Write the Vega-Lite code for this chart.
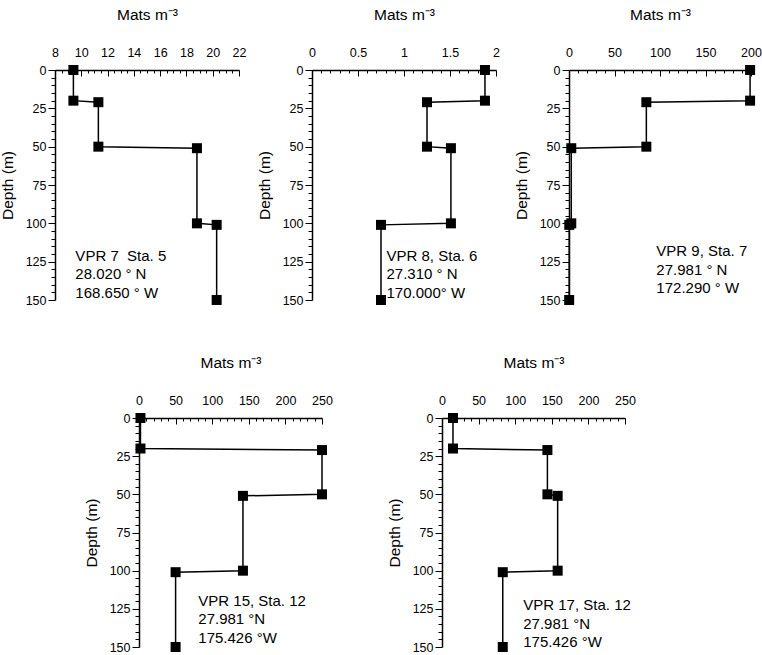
{
  "$schema": "https://vega.github.io/schema/vega-lite/v6.json",
  "padding": {"left": 0, "top": 7, "right": 0, "bottom": 0},
  "background": "white",
  "datasets": {
    "vpr7": [
      {"depth": 0, "mats": 9.4}, {"depth": 20, "mats": 9.4}, {"depth": 21, "mats": 11.3}, {"depth": 50, "mats": 11.3},
      {"depth": 51, "mats": 18.8}, {"depth": 100, "mats": 18.8}, {"depth": 101, "mats": 20.3}, {"depth": 150, "mats": 20.3}
    ],
    "vpr8": [
      {"depth": 0, "mats": 1.88}, {"depth": 20, "mats": 1.88}, {"depth": 21, "mats": 1.25}, {"depth": 50, "mats": 1.25},
      {"depth": 51, "mats": 1.51}, {"depth": 100, "mats": 1.51}, {"depth": 101, "mats": 0.75}, {"depth": 150, "mats": 0.75}
    ],
    "vpr9": [
      {"depth": 0, "mats": 199}, {"depth": 20, "mats": 199}, {"depth": 21, "mats": 85}, {"depth": 50, "mats": 85},
      {"depth": 51, "mats": 2.5}, {"depth": 100, "mats": 2.5}, {"depth": 101, "mats": 0.3}, {"depth": 150, "mats": 0.2}
    ],
    "vpr15": [
      {"depth": 0, "mats": 2}, {"depth": 20, "mats": 2}, {"depth": 21, "mats": 250}, {"depth": 50, "mats": 250},
      {"depth": 51, "mats": 142}, {"depth": 100, "mats": 142}, {"depth": 101, "mats": 50}, {"depth": 150, "mats": 50}
    ],
    "vpr17": [
      {"depth": 0, "mats": 15}, {"depth": 20, "mats": 15}, {"depth": 21, "mats": 144}, {"depth": 50, "mats": 144},
      {"depth": 51, "mats": 158}, {"depth": 100, "mats": 158}, {"depth": 101, "mats": 83}, {"depth": 150, "mats": 83}
    ],
    "note7": [{"mats": 9.55, "depth": 116.7, "label": "VPR 7\u00a0 Sta. 5\n28.020 ° N\n168.650 ° W"}],
    "note8": [{"mats": 0.81, "depth": 116.5, "label": "VPR 8, Sta. 6\n27.310 ° N\n170.000° W"}],
    "note9": [{"mats": 96, "depth": 113.5, "label": "VPR 9, Sta. 7\n27.981 ° N\n172.290 ° W"}],
    "note15": [{"mats": 81, "depth": 115, "label": "VPR 15, Sta. 12\n27.981 °N\n175.426 °W"}],
    "note17": [{"mats": 111, "depth": 118, "label": "VPR 17, Sta. 12\n27.981 °N\n175.426 °W"}]
  },
  "vconcat": [
    {
      "bounds": "flush",
      "spacing": 73,
      "hconcat": [
        {
          "width": 184, "height": 230,
          "data": {"name": "vpr7"},
          "resolve": {"axis": {"x": "independent", "y": "independent"}},
          "layer": [
            {"mark": {"type": "line", "color": "black", "strokeWidth": 1.5},
             "encoding": {
              "x": {"field": "mats", "type": "quantitative", "scale": {"domain": [8, 22], "nice": false, "zero": false},
                "axis": {"orient": "top", "title": "Mats m⁻³", "values": [8,10,12,14,16,18,20,22], "labelExpr": "format(datum.value, '~g')",
                  "domain": true, "domainColor": "black", "domainWidth": 1.5, "ticks": false, "grid": false,
                  "labelFont": "Liberation Sans", "labelFontSize": 12.5, "labelColor": "black", "labelFlush": false, "labelOverlap": false, "labelPadding": 10.5,
                  "titleFont": "Liberation Sans", "titleFontSize": 15.5, "titleFontWeight": "normal", "titleColor": "black", "titlePadding": 24}},
              "y": {"field": "depth", "type": "quantitative", "scale": {"domain": [0, 150], "reverse": true, "nice": false},
                "axis": {"orient": "left", "title": "Depth (m)", "values": [0,25,50,75,100,125,150],
                  "domain": true, "domainColor": "black", "domainWidth": 1.5, "ticks": true, "tickColor": "black", "tickWidth": 1, "tickSize": 7, "grid": false,
                  "labelFont": "Liberation Sans", "labelFontSize": 12.5, "labelColor": "black", "labelFlush": false, "labelOverlap": false, "labelPadding": 2,
                  "titleFont": "Liberation Sans", "titleFontSize": 15.5, "titleFontWeight": "normal", "titleColor": "black", "titlePadding": 10}},
              "order": {"field": "depth", "type": "quantitative"}}},
            {"mark": {"type": "square", "color": "black", "size": 100, "opacity": 1},
             "encoding": {
              "x": {"field": "mats", "type": "quantitative", "scale": {"domain": [8, 22], "nice": false, "zero": false},
                "axis": {"orient": "top", "title": null, "values": [8,10,12,14,16,18,20,22], "labels": false, "domain": false, "grid": false, "ticks": true, "tickColor": "black", "tickWidth": 1, "tickSize": -6}},
              "y": {"field": "depth", "type": "quantitative", "scale": {"domain": [0, 150], "reverse": true, "nice": false},
                "axis": {"orient": "left", "title": null, "values": [5,10,15,20,30,35,40,45,55,60,65,70,80,85,90,95,105,110,115,120,130,135,140,145], "labels": false, "domain": false, "grid": false, "ticks": true, "tickColor": "black", "tickWidth": 1, "tickSize": 4}}}},
            {"data": {"name": "note7"}, "mark": {"type": "text", "align": "left", "baseline": "top", "font": "Liberation Sans", "fontSize": 15, "lineBreak": "\n", "lineHeight": 18.5, "color": "black"},
             "encoding": {
              "x": {"field": "mats", "type": "quantitative", "scale": {"domain": [8, 22], "nice": false, "zero": false},
                "axis": {"orient": "top", "title": null, "values": [8.5,9,9.5,10.5,11,11.5,12.5,13,13.5,14.5,15,15.5,16.5,17,17.5,18.5,19,19.5,20.5,21,21.5], "labels": false, "domain": false, "grid": false, "ticks": true, "tickColor": "black", "tickWidth": 1, "tickSize": -3}},
              "y": {"field": "depth", "type": "quantitative", "scale": {"domain": [0, 150], "reverse": true, "nice": false}, "axis": null},
              "text": {"field": "label"}}}
          ]
        },
        {
          "width": 184, "height": 230,
          "data": {"name": "vpr8"},
          "resolve": {"axis": {"x": "independent", "y": "independent"}},
          "layer": [
            {"mark": {"type": "line", "color": "black", "strokeWidth": 1.5},
             "encoding": {
              "x": {"field": "mats", "type": "quantitative", "scale": {"domain": [0, 2], "nice": false, "zero": false},
                "axis": {"orient": "top", "title": "Mats m⁻³", "values": [0,0.5,1,1.5,2], "labelExpr": "format(datum.value, '~g')",
                  "domain": true, "domainColor": "black", "domainWidth": 1.5, "ticks": false, "grid": false,
                  "labelFont": "Liberation Sans", "labelFontSize": 12.5, "labelColor": "black", "labelFlush": false, "labelOverlap": false, "labelPadding": 10.5,
                  "titleFont": "Liberation Sans", "titleFontSize": 15.5, "titleFontWeight": "normal", "titleColor": "black", "titlePadding": 24}},
              "y": {"field": "depth", "type": "quantitative", "scale": {"domain": [0, 150], "reverse": true, "nice": false},
                "axis": {"orient": "left", "title": "Depth (m)", "values": [0,25,50,75,100,125,150],
                  "domain": true, "domainColor": "black", "domainWidth": 1.5, "ticks": true, "tickColor": "black", "tickWidth": 1, "tickSize": 7, "grid": false,
                  "labelFont": "Liberation Sans", "labelFontSize": 12.5, "labelColor": "black", "labelFlush": false, "labelOverlap": false, "labelPadding": 2,
                  "titleFont": "Liberation Sans", "titleFontSize": 15.5, "titleFontWeight": "normal", "titleColor": "black", "titlePadding": 10}},
              "order": {"field": "depth", "type": "quantitative"}}},
            {"mark": {"type": "square", "color": "black", "size": 100, "opacity": 1},
             "encoding": {
              "x": {"field": "mats", "type": "quantitative", "scale": {"domain": [0, 2], "nice": false, "zero": false},
                "axis": {"orient": "top", "title": null, "values": [0,0.5,1,1.5,2], "labels": false, "domain": false, "grid": false, "ticks": true, "tickColor": "black", "tickWidth": 1, "tickSize": -6}},
              "y": {"field": "depth", "type": "quantitative", "scale": {"domain": [0, 150], "reverse": true, "nice": false},
                "axis": {"orient": "left", "title": null, "values": [5,10,15,20,30,35,40,45,55,60,65,70,80,85,90,95,105,110,115,120,130,135,140,145], "labels": false, "domain": false, "grid": false, "ticks": true, "tickColor": "black", "tickWidth": 1, "tickSize": 4}}}},
            {"data": {"name": "note8"}, "mark": {"type": "text", "align": "left", "baseline": "top", "font": "Liberation Sans", "fontSize": 15, "lineBreak": "\n", "lineHeight": 18.5, "color": "black"},
             "encoding": {
              "x": {"field": "mats", "type": "quantitative", "scale": {"domain": [0, 2], "nice": false, "zero": false},
                "axis": {"orient": "top", "title": null, "values": [0.1,0.2,0.3,0.4,0.6,0.7,0.8,0.9,1.1,1.2,1.3,1.4,1.6,1.7,1.8,1.9], "labels": false, "domain": false, "grid": false, "ticks": true, "tickColor": "black", "tickWidth": 1, "tickSize": -3}},
              "y": {"field": "depth", "type": "quantitative", "scale": {"domain": [0, 150], "reverse": true, "nice": false}, "axis": null},
              "text": {"field": "label"}}}
          ]
        },
        {
          "width": 182, "height": 230,
          "data": {"name": "vpr9"},
          "resolve": {"axis": {"x": "independent", "y": "independent"}},
          "layer": [
            {"mark": {"type": "line", "color": "black", "strokeWidth": 1.5},
             "encoding": {
              "x": {"field": "mats", "type": "quantitative", "scale": {"domain": [0, 200], "nice": false, "zero": false},
                "axis": {"orient": "top", "title": "Mats m⁻³", "values": [0,50,100,150,200], "labelExpr": "format(datum.value, '~g')",
                  "domain": true, "domainColor": "black", "domainWidth": 1.5, "ticks": false, "grid": false,
                  "labelFont": "Liberation Sans", "labelFontSize": 12.5, "labelColor": "black", "labelFlush": false, "labelOverlap": false, "labelPadding": 10.5,
                  "titleFont": "Liberation Sans", "titleFontSize": 15.5, "titleFontWeight": "normal", "titleColor": "black", "titlePadding": 24}},
              "y": {"field": "depth", "type": "quantitative", "scale": {"domain": [0, 150], "reverse": true, "nice": false},
                "axis": {"orient": "left", "title": "Depth (m)", "values": [0,25,50,75,100,125,150],
                  "domain": true, "domainColor": "black", "domainWidth": 1.5, "ticks": true, "tickColor": "black", "tickWidth": 1, "tickSize": 7, "grid": false,
                  "labelFont": "Liberation Sans", "labelFontSize": 12.5, "labelColor": "black", "labelFlush": false, "labelOverlap": false, "labelPadding": 2,
                  "titleFont": "Liberation Sans", "titleFontSize": 15.5, "titleFontWeight": "normal", "titleColor": "black", "titlePadding": 10}},
              "order": {"field": "depth", "type": "quantitative"}}},
            {"mark": {"type": "square", "color": "black", "size": 100, "opacity": 1},
             "encoding": {
              "x": {"field": "mats", "type": "quantitative", "scale": {"domain": [0, 200], "nice": false, "zero": false},
                "axis": {"orient": "top", "title": null, "values": [0,50,100,150,200], "labels": false, "domain": false, "grid": false, "ticks": true, "tickColor": "black", "tickWidth": 1, "tickSize": -6}},
              "y": {"field": "depth", "type": "quantitative", "scale": {"domain": [0, 150], "reverse": true, "nice": false},
                "axis": {"orient": "left", "title": null, "values": [5,10,15,20,30,35,40,45,55,60,65,70,80,85,90,95,105,110,115,120,130,135,140,145], "labels": false, "domain": false, "grid": false, "ticks": true, "tickColor": "black", "tickWidth": 1, "tickSize": 4}}}},
            {"data": {"name": "note9"}, "mark": {"type": "text", "align": "left", "baseline": "top", "font": "Liberation Sans", "fontSize": 15, "lineBreak": "\n", "lineHeight": 18.5, "color": "black"},
             "encoding": {
              "x": {"field": "mats", "type": "quantitative", "scale": {"domain": [0, 200], "nice": false, "zero": false},
                "axis": {"orient": "top", "title": null, "values": [10,20,30,40,60,70,80,90,110,120,130,140,160,170,180,190], "labels": false, "domain": false, "grid": false, "ticks": true, "tickColor": "black", "tickWidth": 1, "tickSize": -3}},
              "y": {"field": "depth", "type": "quantitative", "scale": {"domain": [0, 150], "reverse": true, "nice": false}, "axis": null},
              "text": {"field": "label"}}}
          ]
        }
      ]
    },
    {
      "bounds": "flush",
      "spacing": 40,
      "hconcat": [
        {
          "width": 44, "height": 1,
          "data": {"values": [{"mats": 0}]},
          "mark": {"type": "point", "opacity": 0}
        },
        {
          "width": 183, "height": 229,
          "data": {"name": "vpr15"},
          "resolve": {"axis": {"x": "independent", "y": "independent"}},
          "layer": [
            {"mark": {"type": "line", "color": "black", "strokeWidth": 1.5},
             "encoding": {
              "x": {"field": "mats", "type": "quantitative", "scale": {"domain": [0, 250], "nice": false, "zero": false},
                "axis": {"orient": "top", "title": "Mats m⁻³", "values": [0,50,100,150,200,250], "labelExpr": "format(datum.value, '~g')",
                  "domain": true, "domainColor": "black", "domainWidth": 1.5, "ticks": false, "grid": false,
                  "labelFont": "Liberation Sans", "labelFontSize": 12.5, "labelColor": "black", "labelFlush": false, "labelOverlap": false, "labelPadding": 10.5,
                  "titleFont": "Liberation Sans", "titleFontSize": 15.5, "titleFontWeight": "normal", "titleColor": "black", "titlePadding": 24}},
              "y": {"field": "depth", "type": "quantitative", "scale": {"domain": [0, 150], "reverse": true, "nice": false},
                "axis": {"orient": "left", "title": "Depth (m)", "values": [0,25,50,75,100,125,150],
                  "domain": true, "domainColor": "black", "domainWidth": 1.5, "ticks": true, "tickColor": "black", "tickWidth": 1, "tickSize": 7, "grid": false,
                  "labelFont": "Liberation Sans", "labelFontSize": 12.5, "labelColor": "black", "labelFlush": false, "labelOverlap": false, "labelPadding": 2,
                  "titleFont": "Liberation Sans", "titleFontSize": 15.5, "titleFontWeight": "normal", "titleColor": "black", "titlePadding": 10}},
              "order": {"field": "depth", "type": "quantitative"}}},
            {"mark": {"type": "square", "color": "black", "size": 100, "opacity": 1},
             "encoding": {
              "x": {"field": "mats", "type": "quantitative", "scale": {"domain": [0, 250], "nice": false, "zero": false},
                "axis": {"orient": "top", "title": null, "values": [0,50,100,150,200,250], "labels": false, "domain": false, "grid": false, "ticks": true, "tickColor": "black", "tickWidth": 1, "tickSize": -6}},
              "y": {"field": "depth", "type": "quantitative", "scale": {"domain": [0, 150], "reverse": true, "nice": false},
                "axis": {"orient": "left", "title": null, "values": [5,10,15,20,30,35,40,45,55,60,65,70,80,85,90,95,105,110,115,120,130,135,140,145], "labels": false, "domain": false, "grid": false, "ticks": true, "tickColor": "black", "tickWidth": 1, "tickSize": 4}}}},
            {"data": {"name": "note15"}, "mark": {"type": "text", "align": "left", "baseline": "top", "font": "Liberation Sans", "fontSize": 15, "lineBreak": "\n", "lineHeight": 18.5, "color": "black"},
             "encoding": {
              "x": {"field": "mats", "type": "quantitative", "scale": {"domain": [0, 250], "nice": false, "zero": false},
                "axis": {"orient": "top", "title": null, "values": [10,20,30,40,60,70,80,90,110,120,130,140,160,170,180,190,210,220,230,240], "labels": false, "domain": false, "grid": false, "ticks": true, "tickColor": "black", "tickWidth": 1, "tickSize": -3}},
              "y": {"field": "depth", "type": "quantitative", "scale": {"domain": [0, 150], "reverse": true, "nice": false}, "axis": null},
              "text": {"field": "label"}}}
          ]
        },
        {
          "width": 40, "height": 1,
          "data": {"values": [{"mats": 0}]},
          "mark": {"type": "point", "opacity": 0}
        },
        {
          "width": 183, "height": 229,
          "data": {"name": "vpr17"},
          "resolve": {"axis": {"x": "independent", "y": "independent"}},
          "layer": [
            {"mark": {"type": "line", "color": "black", "strokeWidth": 1.5},
             "encoding": {
              "x": {"field": "mats", "type": "quantitative", "scale": {"domain": [0, 250], "nice": false, "zero": false},
                "axis": {"orient": "top", "title": "Mats m⁻³", "values": [0,50,100,150,200,250], "labelExpr": "format(datum.value, '~g')",
                  "domain": true, "domainColor": "black", "domainWidth": 1.5, "ticks": false, "grid": false,
                  "labelFont": "Liberation Sans", "labelFontSize": 12.5, "labelColor": "black", "labelFlush": false, "labelOverlap": false, "labelPadding": 10.5,
                  "titleFont": "Liberation Sans", "titleFontSize": 15.5, "titleFontWeight": "normal", "titleColor": "black", "titlePadding": 24}},
              "y": {"field": "depth", "type": "quantitative", "scale": {"domain": [0, 150], "reverse": true, "nice": false},
                "axis": {"orient": "left", "title": "Depth (m)", "values": [0,25,50,75,100,125,150],
                  "domain": true, "domainColor": "black", "domainWidth": 1.5, "ticks": true, "tickColor": "black", "tickWidth": 1, "tickSize": 7, "grid": false,
                  "labelFont": "Liberation Sans", "labelFontSize": 12.5, "labelColor": "black", "labelFlush": false, "labelOverlap": false, "labelPadding": 2,
                  "titleFont": "Liberation Sans", "titleFontSize": 15.5, "titleFontWeight": "normal", "titleColor": "black", "titlePadding": 10}},
              "order": {"field": "depth", "type": "quantitative"}}},
            {"mark": {"type": "square", "color": "black", "size": 100, "opacity": 1},
             "encoding": {
              "x": {"field": "mats", "type": "quantitative", "scale": {"domain": [0, 250], "nice": false, "zero": false},
                "axis": {"orient": "top", "title": null, "values": [0,50,100,150,200,250], "labels": false, "domain": false, "grid": false, "ticks": true, "tickColor": "black", "tickWidth": 1, "tickSize": -6}},
              "y": {"field": "depth", "type": "quantitative", "scale": {"domain": [0, 150], "reverse": true, "nice": false},
                "axis": {"orient": "left", "title": null, "values": [5,10,15,20,30,35,40,45,55,60,65,70,80,85,90,95,105,110,115,120,130,135,140,145], "labels": false, "domain": false, "grid": false, "ticks": true, "tickColor": "black", "tickWidth": 1, "tickSize": 4}}}},
            {"data": {"name": "note17"}, "mark": {"type": "text", "align": "left", "baseline": "top", "font": "Liberation Sans", "fontSize": 15, "lineBreak": "\n", "lineHeight": 18.5, "color": "black"},
             "encoding": {
              "x": {"field": "mats", "type": "quantitative", "scale": {"domain": [0, 250], "nice": false, "zero": false},
                "axis": {"orient": "top", "title": null, "values": [10,20,30,40,60,70,80,90,110,120,130,140,160,170,180,190,210,220,230,240], "labels": false, "domain": false, "grid": false, "ticks": true, "tickColor": "black", "tickWidth": 1, "tickSize": -3}},
              "y": {"field": "depth", "type": "quantitative", "scale": {"domain": [0, 150], "reverse": true, "nice": false}, "axis": null},
              "text": {"field": "label"}}}
          ]
        }
      ]
    }
  ],
  "spacing": 48,
  "config": {
    "view": {"stroke": null},
    "font": "Liberation Sans"
  }
}
